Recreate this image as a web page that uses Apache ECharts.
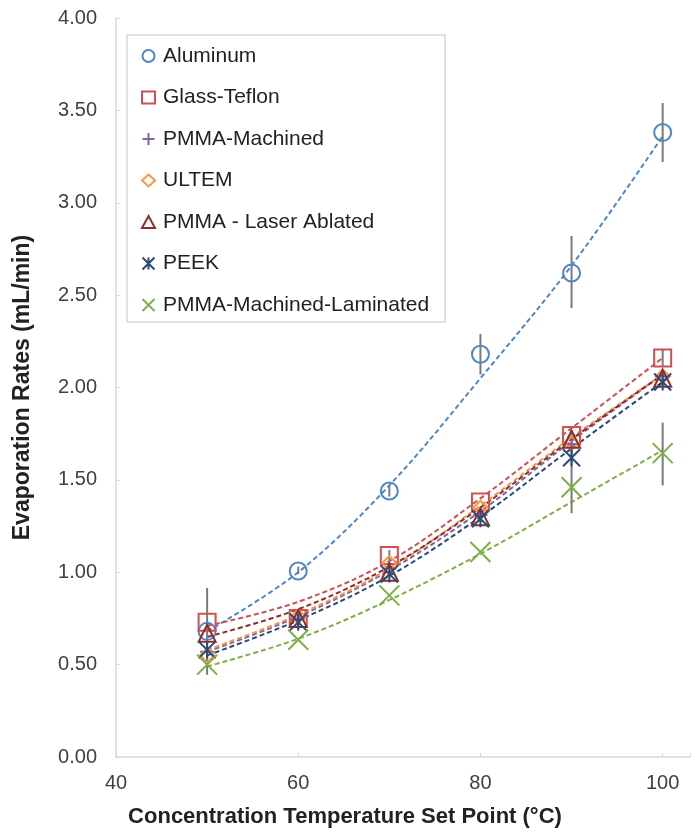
<!DOCTYPE html>
<html>
<head>
<meta charset="utf-8">
<script src="https://cdn.jsdelivr.net/npm/echarts@6/dist/echarts.min.js"></script>
<style>html,body{margin:0;padding:0;background:#fff}#c{width:698px;height:836px}</style>
</head>
<body>
<div id="c"></div>
<script>
var temps = [50, 60, 70, 80, 90, 100];
var seriesNames = ['Aluminum', 'Glass-Teflon', 'PMMA-Machined', 'ULTEM', 'PMMA - Laser Ablated', 'PEEK', 'PMMA-Machined-Laminated'];
var aluminum = [0.68, 1.007, 1.44, 2.18, 2.62, 3.38];
var glassTeflon = [0.73, 0.75, 1.09, 1.38, 1.74, 2.16];
var pmmaMachined = [0.57, 0.75, 1.02, 1.31, 1.69, 2.06];
var ultem = [0.55, 0.76, 1.05, 1.35, 1.70, 2.06];
var pmmaLaser = [0.67, 0.75, 1.00, 1.30, 1.72, 2.05];
var peek = [0.58, 0.73, 0.99, 1.29, 1.62, 2.03];
var pmmaLaminated = [0.50, 0.635, 0.875, 1.11, 1.46, 1.645];

// trendline values at each set point
var trendAluminum = [0.68, 1.00, 1.47, 2.05, 2.66, 3.36];
var trendGlass = [0.71, 0.84, 1.06, 1.40, 1.78, 2.16];
var trendMachined = [0.57, 0.76, 1.01, 1.33, 1.71, 2.07];
var trendUltem = [0.58, 0.77, 1.02, 1.36, 1.73, 2.07];
var trendLaser = [0.65, 0.80, 1.03, 1.35, 1.72, 2.07];
var trendPeek = [0.55, 0.74, 0.98, 1.30, 1.67, 2.03];
var trendLaminated = [0.49, 0.64, 0.85, 1.10, 1.38, 1.66];

// error bars
var errX = [50, 60, 70, 80, 90, 100, 90, 100, 100, 70];
var errLow = [0.445, 0.99, 1.41, 2.07, 2.43, 3.22, 1.32, 1.47, 2.11, 1.06];
var errHigh = [0.915, 1.03, 1.47, 2.29, 2.82, 3.54, 1.77, 1.81, 2.21, 1.12];

var yTicks = ['0.00','0.50','1.00','1.50','2.00','2.50','3.00','3.50','4.00'];
var xTicks = [40, 60, 80, 100];

var colors = ['#4f86c6', '#d05050', '#8064a2', '#f79646', '#8b2e2e', '#2a4a78', '#7fae45'];
var symbols = [
  'circle', 'rect',
  'path://M5,0L5,10M0,5L10,5',
  'diamond', 'triangle',
  'path://M0,0L10,10M10,0L0,10M5,0L5,10',
  'path://M0,0L10,10M10,0L0,10'
];
var sizes = [17, 17, 14, 14, 17, 17, 20];
var pointData = [aluminum, glassTeflon, pmmaMachined, ultem, pmmaLaser, peek, pmmaLaminated];
var trendData = [trendAluminum, trendGlass, trendMachined, trendUltem, trendLaser, trendPeek, trendLaminated];

function pairs(arr) { return temps.map(function (t, i) { return [t, arr[i]]; }); }

var series = [];
trendData.forEach(function (arr, i) {
  series.push({
    type: 'line', name: 'trend' + i, data: pairs(arr), smooth: 0.35,
    showSymbol: false, silent: true, z: 2,
    lineStyle: { color: colors[i], width: 2, type: [5, 3] }
  });
});
series.push({
  type: 'custom', name: 'err', z: 3, silent: true,
  data: errX.map(function (x, i) { return [x, errLow[i], errHigh[i]]; }),
  encode: { x: 0, y: [1, 2] },
  renderItem: function (params, api) {
    var p1 = api.coord([api.value(0), api.value(1)]);
    var p2 = api.coord([api.value(0), api.value(2)]);
    return { type: 'line', shape: { x1: p1[0], y1: p1[1], x2: p2[0], y2: p2[1] },
      style: { stroke: '#7a7a7a', lineWidth: 2 } };
  }
});
pointData.forEach(function (arr, i) {
  series.push({
    type: 'scatter', name: seriesNames[i], data: pairs(arr), z: 4,
    symbol: symbols[i], symbolSize: sizes[i],
    itemStyle: { color: 'rgba(0,0,0,0)', borderColor: colors[i], borderWidth: 2, opacity: 1 }
  });
});

var FONT = 'Liberation Sans, Arial, sans-serif';
var chart = echarts.init(document.getElementById('c'), null, { renderer: 'canvas' });
chart.setOption({
  animation: false,
  backgroundColor: '#fff',
  textStyle: { fontFamily: FONT },
  grid: { left: 116, right: 8, top: 18, bottom: 79 },
  legend: {
    data: seriesNames.map(function (n, i) {
      return { name: n, icon: symbols[i] };
    }),
    orient: 'vertical', left: 127, top: 35,
    itemWidth: 13, itemHeight: 12, itemGap: 19.5,
    padding: [10, 16, 6, 14],
    borderColor: '#d9d9d9', borderWidth: 1.5,
    textStyle: { fontSize: 21, color: '#222', lineHeight: 22, padding: [0, 0, 0, 3] }
  },
  xAxis: {
    type: 'value', min: 40, max: 103, interval: 20,
    axisLine: { lineStyle: { color: '#d9d9d9', width: 1.5 } },
    axisTick: { show: true, inside: true, length: 4, lineStyle: { color: '#d9d9d9' } },
    splitLine: { show: false },
    axisLabel: { fontSize: 20, color: '#404040', margin: 16,
      formatter: function (v) { return xTicks.indexOf(v) >= 0 ? String(v) : ''; } }
  },
  yAxis: {
    type: 'value', min: 0, max: 4, interval: 0.5,
    name: 'Evaporation Rates (mL/min)', nameLocation: 'middle', nameGap: 82,
    nameTextStyle: { fontSize: 23, fontWeight: 'bold', color: '#222' },
    axisLine: { show: true, lineStyle: { color: '#d9d9d9', width: 1.5 } },
    axisTick: { show: true, inside: true, length: 4, lineStyle: { color: '#d9d9d9' } },
    splitLine: { show: false },
    axisLabel: { fontSize: 20, color: '#404040', margin: 19,
      formatter: function (v) { return yTicks[Math.round(v / 0.5)]; } }
  },
  graphic: [{
    type: 'text', x: 345, y: 817,
    style: { text: 'Concentration Temperature Set Point (°C)', fontSize: 22, fontWeight: 'bold',
      fill: '#222', font: 'bold 22px ' + FONT, textAlign: 'center', textVerticalAlign: 'middle' }
  }],
  series: series
});
</script>
</body>
</html>
